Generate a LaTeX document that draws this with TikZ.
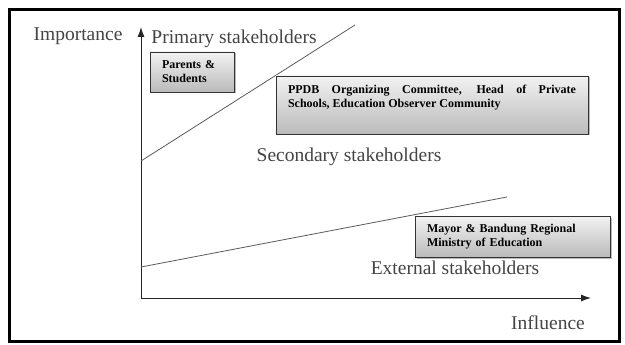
\documentclass[tikz,border=0pt]{standalone}
\usepackage{fontspec}
\setmainfont{Liberation Serif}
\usetikzlibrary{arrows.meta,shadows}
\definecolor{txtgray}{HTML}{444444}
\definecolor{linegray}{HTML}{5A5A5A}
\tikzset{
  lbl/.style={text=txtgray,font=\fontsize{19.5}{22}\selectfont,inner sep=0pt},
  stbox/.style={draw=black!80,line width=0.8pt,top color=black!5,bottom color=black!27,
    drop shadow={shadow xshift=1.5pt,shadow yshift=-1.5pt,opacity=0.45,fill=black!60},
    font=\fontsize{12}{14}\selectfont\bfseries,align=left,inner xsep=12pt,inner ysep=0pt},
  axis/.style={line width=1pt,draw=black!85,-{Latex[length=10pt,width=7pt]}},
  divider/.style={line width=0.8pt,draw=linegray}
}
\begin{document}
\begin{tikzpicture}[x=1pt,y=-1pt]
\useasboundingbox (0,0) rectangle (625,345);
\draw[line width=3pt] (9.5,9.5) rectangle (619,341);
% axes
\coordinate (O) at (141,298);
\coordinate (ytip) at (141,27);
\coordinate (xtip) at (591,298);
\draw[axis] (O) -- (ytip);
\draw[axis] (O) -- (xtip);
% dividing lines
\coordinate (l1a) at (141,161);
\coordinate (l1b) at (355,25);
\coordinate (l2a) at (141,267);
\coordinate (l2b) at (507,197);
\draw[divider] (l1a) -- (l1b);
\draw[divider] (l2a) -- (l2b);
% labels
\node[lbl] (imp) at (78,36) {Importance};
\node[lbl] (prim) at (234,39) {Primary stakeholders};
\node[lbl] (sec) at (349,157) {Secondary stakeholders};
\node[lbl] (ext) at (455,268) {External stakeholders};
\node[lbl] (inf) at (548,323) {Influence};
% boxes
\node[stbox,text width=60pt,minimum height=40pt] (parents) at (192,72) {Parents \&\\Students};
\node[stbox,inner xsep=0pt,minimum width=312pt,minimum height=58pt] (ppdb) at (432,105)
  {\parbox[c][40pt][t]{288pt}{PPDB Organizing Committee, Head of Private\linebreak Schools, Education Observer Community}};
\node[stbox,text width=171pt,minimum height=41pt] (mayor) at (512.5,236.5) {Mayor \& Bandung Regional\\Ministry of Education};
\end{tikzpicture}
\end{document}
